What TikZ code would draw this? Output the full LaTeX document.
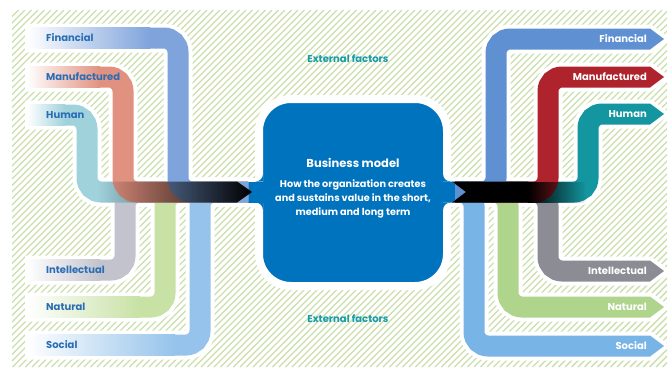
\documentclass[tikz,border=0pt]{standalone}
\usepackage{fontspec}
\setmainfont{Poppins}
\usetikzlibrary{fadings}

% hatching and box
\definecolor{hatchgreen}{HTML}{CCDFAE}
\definecolor{bmblue}{HTML}{0073BE}
\definecolor{labelblue}{HTML}{2A6DB5}
\definecolor{extteal}{HTML}{169CA8}
% capitals going in (pale)
\definecolor{inFin}{HTML}{7FA4DC}
\definecolor{inMan}{HTML}{E1917F}
\definecolor{inHum}{HTML}{A0D2DC}
\definecolor{inInt}{HTML}{C3C3CD}
\definecolor{inNat}{HTML}{C8E1A5}
\definecolor{inSoc}{HTML}{96C3EB}
% capitals coming out (saturated)
\definecolor{outFin}{HTML}{5F91D2}
\definecolor{outMan}{HTML}{AF232D}
\definecolor{outHum}{HTML}{1496A0}
\definecolor{outInt}{HTML}{8C8C94}
\definecolor{outNat}{HTML}{AFD48C}
\definecolor{outSoc}{HTML}{78B4E6}

\tikzfading[name=darkenin, left color=transparent!100, middle color=transparent!40, right color=transparent!0]
\tikzfading[name=darkenout, left color=transparent!0, right color=transparent!100]

\begin{document}
\begin{tikzpicture}[x=1pt, y=-1pt,
  hatchline/.style={hatchgreen, line width=1.4pt},
  halo/.style={white, line width=29pt, rounded corners=14pt},
  band/.style={line width=21pt, rounded corners=14pt},
  tiphalo/.style={white, fill=white, line width=8pt, line join=round},
  inlabel/.style={font=\bfseries\fontsize{10}{12}\selectfont, text=labelblue, inner sep=0pt, anchor=base west},
  outlabel/.style={font=\bfseries\fontsize{10}{12}\selectfont, text=white, inner sep=0pt, anchor=base east},
  extlabel/.style={font=\bfseries\fontsize{10}{12}\selectfont, text=extteal, inner sep=0pt},
  bmbox/.style={fill=bmblue, draw=white, line width=8pt, rounded corners=32pt, minimum width=188pt, minimum height=187pt, inner sep=0pt},
  bmtitle/.style={font=\bfseries\fontsize{11.5}{14}\selectfont, text=white, inner sep=0pt},
  bmtext/.style={font=\bfseries\fontsize{9.7}{14}\selectfont, text=white, inner sep=0pt, align=center}
]
\useasboundingbox (0,0) rectangle (667,367);
\fill[white] (0,0) rectangle (667,367);

% hatched field
\begin{scope}
  \clip (12,10) rectangle (667,367);
  \foreach \k in {0,...,160}
    \draw[hatchline] ({-345+6.5*\k},367) -- ++(357,-357);
\end{scope}

% white halos round every band
\draw[halo] (25,38) -- (178,38) -- (178,192) -- (248,192);
\draw[halo] (25,77) -- (123,77) -- (123,192) -- (248,192);
\draw[halo] (25,115) -- (87,115) -- (87,192) -- (248,192);
\draw[halo] (25,270) -- (125,270) -- (125,192) -- (248,192);
\draw[halo] (25,307) -- (165,307) -- (165,192) -- (248,192);
\draw[halo] (25,345) -- (200,345) -- (200,192) -- (248,192);
\fill[white] (240,177.5) rectangle (266,206.5);
\fill[white] (440,177.5) rectangle (456,206.5);

\draw[halo] (455,192) -- (496,192) -- (496,39) -- (650,39);
\draw[tiphalo] (650,28.5) -- (664,39) -- (650,49.5) -- cycle;
\draw[halo] (455,192) -- (548,192) -- (548,77) -- (650,77);
\draw[tiphalo] (650,66.5) -- (664,77) -- (650,87.5) -- cycle;
\draw[halo] (455,192) -- (588,192) -- (588,114) -- (650,114);
\draw[tiphalo] (650,103.5) -- (664,114) -- (650,124.5) -- cycle;
\draw[halo] (455,192) -- (548,192) -- (548,271) -- (650,271);
\draw[tiphalo] (650,260.5) -- (664,271) -- (650,281.5) -- cycle;
\draw[halo] (455,192) -- (508,192) -- (508,307) -- (650,307);
\draw[tiphalo] (650,296.5) -- (664,307) -- (650,317.5) -- cycle;
\draw[halo] (455,192) -- (474,192) -- (474,346) -- (650,346);
\draw[tiphalo] (650,335.5) -- (664,346) -- (650,356.5) -- cycle;

% business model box with its two joints and their fillets
\node[bmbox] (bm) at (353,192.5) {};
\fill[bmblue] (238,181.5) rectangle (270,202.5);
\fill[bmblue] (436,181.5) -- (452,181.5) -- (466,192) -- (452,202.5) -- (436,202.5) -- cycle;
\fill[bmblue] (263,174) -- (263,181.5) -- (255.5,181.5) .. controls (259.64,181.5) and (263,178.14) .. cycle;
\fill[bmblue] (263,210) -- (263,202.5) -- (255.5,202.5) .. controls (259.64,202.5) and (263,205.86) .. cycle;
\fill[bmblue] (443,174) -- (443,181.5) -- (450.5,181.5) .. controls (446.36,181.5) and (443,178.14) .. cycle;
\fill[bmblue] (443,210) -- (443,202.5) -- (450.5,202.5) .. controls (446.36,202.5) and (443,205.86) .. cycle;

% capitals going in
\shade[left color=white, right color=inSoc] (27,334.5) rectangle (175,355.5);
\draw[band, inSoc] (175,345) -- (200,345) -- (200,192) -- (248,192);
\shade[left color=white, right color=inNat] (27,296.5) rectangle (140,317.5);
\draw[band, inNat] (140,307) -- (165,307) -- (165,192) -- (248,192);
\shade[left color=white, right color=inInt] (27,259.5) rectangle (100,280.5);
\draw[band, inInt] (100,270) -- (125,270) -- (125,192) -- (248,192);
\shade[left color=white, right color=inHum] (27,104.5) rectangle (65,125.5);
\draw[band, inHum] (65,115) -- (87,115) -- (87,192) -- (248,192);
\shade[left color=white, right color=inMan] (27,66.5) rectangle (100,87.5);
\draw[band, inMan] (100,77) -- (123,77) -- (123,192) -- (248,192);
\shade[left color=white, right color=inFin] (27,27.5) rectangle (150,48.5);
\draw[band, inFin] (150,38) -- (178,38) -- (178,192) -- (248,192);

% capitals coming out
\draw[band, outSoc] (455,192) -- (474,192) -- (474,346) -- (650,346);
\fill[outSoc] (650,335.5) -- (664,346) -- (650,356.5) -- cycle;
\draw[band, outNat] (455,192) -- (508,192) -- (508,307) -- (650,307);
\fill[outNat] (650,296.5) -- (664,307) -- (650,317.5) -- cycle;
\draw[band, outInt] (455,192) -- (548,192) -- (548,271) -- (650,271);
\fill[outInt] (650,260.5) -- (664,271) -- (650,281.5) -- cycle;
\draw[band, outHum] (455,192) -- (588,192) -- (588,114) -- (650,114);
\fill[outHum] (650,103.5) -- (664,114) -- (650,124.5) -- cycle;
\draw[band, outMan] (455,192) -- (548,192) -- (548,77) -- (650,77);
\fill[outMan] (650,66.5) -- (664,77) -- (650,87.5) -- cycle;
\draw[band, outFin] (455,192) -- (496,192) -- (496,39) -- (650,39);
\fill[outFin] (650,28.5) -- (664,39) -- (650,49.5) -- cycle;

% dark merging arrows
\fill[black, path fading=darkenin] (98,181.5) -- (237,181.5) -- (252,192) -- (237,202.5) -- (98,202.5) -- cycle;
\fill[black] (452,181.5) -- (528,181.5) -- (528,202.5) -- (452,202.5) -- (466,192) -- cycle;
\fill[black, path fading=darkenout] (527.5,181.5) rectangle (586,202.5);

% labels
\node[inlabel] (lfin) at (46,41.6) {Financial};
\node[inlabel] (lman) at (46,80.6) {Manufactured};
\node[inlabel] (lhum) at (46,118.6) {Human};
\node[inlabel] (lint) at (46,273.6) {Intellectual};
\node[inlabel] (lnat) at (46,310.6) {Natural};
\node[inlabel] (lsoc) at (46,348.6) {Social};

\node[outlabel] (rfin) at (647,42.6) {Financial};
\node[outlabel] (rman) at (647,80.6) {Manufactured};
\node[outlabel] (rhum) at (647,117.6) {Human};
\node[outlabel] (rint) at (647,274.6) {Intellectual};
\node[outlabel] (rnat) at (647,310.6) {Natural};
\node[outlabel] (rsoc) at (647,349.6) {Social};

\node[extlabel] (exttop) at (348,59) {External factors};
\node[extlabel] (extbot) at (348,319) {External factors};

\node[bmtitle] (bmt) at (353,163) {Business model};
\node[bmtext] (bmd) at (353,199) {How the organization creates\\and sustains value in the short,\\medium and long term};
\end{tikzpicture}
\end{document}
